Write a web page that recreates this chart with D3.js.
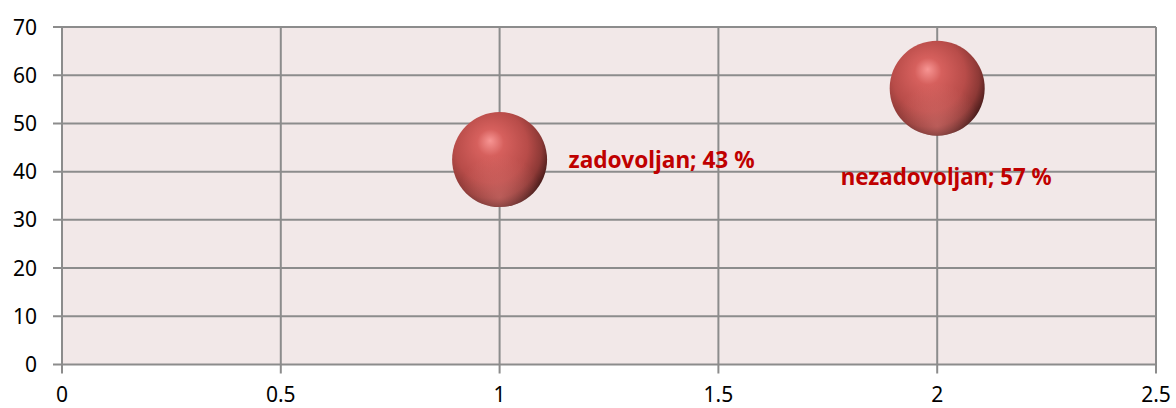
<!DOCTYPE html>
<html>
<head>
<meta charset="utf-8">
<script src="https://cdn.jsdelivr.net/npm/d3@7"></script>
<style>
  html, body { margin: 0; padding: 0; background: #fff; }
  svg text { font-family: "Noto Sans", "Open Sans", sans-serif; }
</style>
</head>
<body>
<svg id="chart"></svg>
<script>
// data
var labels  = ["zadovoljan; 43 %", "nezadovoljan; 57 %"];
var xVals   = [1, 2];
var yVals   = [42.5, 57.3];
var sizes   = [43, 43];
var xTicks  = [0, 0.5, 1, 1.5, 2, 2.5];
var yTicks  = [0, 10, 20, 30, 40, 50, 60, 70];

WIDTH  = 1176;
HEIGHT = 408;
MARGIN = { top: 27, right: 20, bottom: 43.5, left: 62 };
INNER_WIDTH  = WIDTH - MARGIN.left - MARGIN.right;
INNER_HEIGHT = HEIGHT - MARGIN.top - MARGIN.bottom;

x = d3.scaleLinear().domain([0, 2.5]).range([0, INNER_WIDTH]);
y = d3.scaleLinear().domain([0, 70]).range([INNER_HEIGHT, 0]);
r = d3.scaleSqrt().domain([0, 43]).range([0, 47.5]);

svg = d3.select('#chart')
  .attr('width', WIDTH)
  .attr('height', HEIGHT);

defs = svg.append('defs');
grad = defs.append('radialGradient')
  .attr('id', 'ball')
  .attr('cx', '0.42').attr('cy', '0.4').attr('r', '0.64')
  .attr('fx', '0.4').attr('fy', '0.3');
grad.append('stop').attr('offset', '0%').attr('stop-color', '#f79593');
grad.append('stop').attr('offset', '22%').attr('stop-color', '#d6605d');
grad.append('stop').attr('offset', '60%').attr('stop-color', '#b84c49');
grad.append('stop').attr('offset', '82%').attr('stop-color', '#8d3936');
grad.append('stop').attr('offset', '100%').attr('stop-color', '#3e1716');

glow = defs.append('radialGradient')
  .attr('id', 'glow')
  .attr('cx', '0.5').attr('cy', '0.9').attr('r', '0.45');
glow.append('stop').attr('offset', '0%').attr('stop-color', '#e7807c').attr('stop-opacity', 0.5);
glow.append('stop').attr('offset', '100%').attr('stop-color', '#e7807c').attr('stop-opacity', 0);

g = svg.append('g')
  .attr('transform', 'translate(' + MARGIN.left + ',' + MARGIN.top + ')');

g.append('rect')
  .attr('width', INNER_WIDTH)
  .attr('height', INNER_HEIGHT)
  .attr('fill', '#f2e8e8');

// horizontal grid
g.selectAll('.hgrid').data(yTicks).enter().append('line')
  .attr('x1', -9).attr('x2', INNER_WIDTH)
  .attr('y1', d => y(d)).attr('y2', d => y(d))
  .attr('stroke', '#8c8c8c').attr('stroke-width', 2);

// vertical grid
g.selectAll('.vgrid').data(xTicks).enter().append('line')
  .attr('x1', d => x(d)).attr('x2', d => x(d))
  .attr('y1', 0).attr('y2', INNER_HEIGHT + 9)
  .attr('stroke', '#8c8c8c').attr('stroke-width', 2);

// tick labels
g.selectAll('.ylab').data(yTicks).enter().append('text')
  .attr('x', -25)
  .attr('y', d => y(d))
  .attr('dy', '0.36em')
  .attr('text-anchor', 'end')
  .style('font-size', '21px')
  .style('fill', '#000')
  .text(d => d);

g.selectAll('.xlab').data(xTicks).enter().append('text')
  .attr('x', d => x(d))
  .attr('y', INNER_HEIGHT + 37.5)
  .attr('text-anchor', 'middle')
  .style('font-size', '21px')
  .style('fill', '#000')
  .text(d => d);

// bubbles
bubbles = g.selectAll('.bubble').data(xVals).enter().append('g');
bubbles.append('circle')
  .attr('cx', (d, i) => x(d))
  .attr('cy', (d, i) => y(yVals[i]))
  .attr('r', (d, i) => r(sizes[i]))
  .attr('fill', 'url(#ball)');
bubbles.append('circle')
  .attr('cx', (d, i) => x(d))
  .attr('cy', (d, i) => y(yVals[i]))
  .attr('r', (d, i) => r(sizes[i]))
  .attr('fill', 'url(#glow)');

// data labels
labelPos = [{ dx: 69, dy: 8, anchor: 'start', len: 186 }, { dx: 9, dy: 97, anchor: 'middle', len: 211 }];
g.selectAll('.dlab').data(labels).enter().append('text')
  .attr('x', (d, i) => x(xVals[i]) + labelPos[i].dx)
  .attr('y', (d, i) => y(yVals[i]) + labelPos[i].dy)
  .attr('text-anchor', (d, i) => labelPos[i].anchor)
  .attr('textLength', (d, i) => labelPos[i].len)
  .attr('lengthAdjust', 'spacingAndGlyphs')
  .style('font-size', '23px')
  .style('font-weight', 'bold')
  .style('fill', '#c00000')
  .text(d => d);
</script>
</body>
</html>
